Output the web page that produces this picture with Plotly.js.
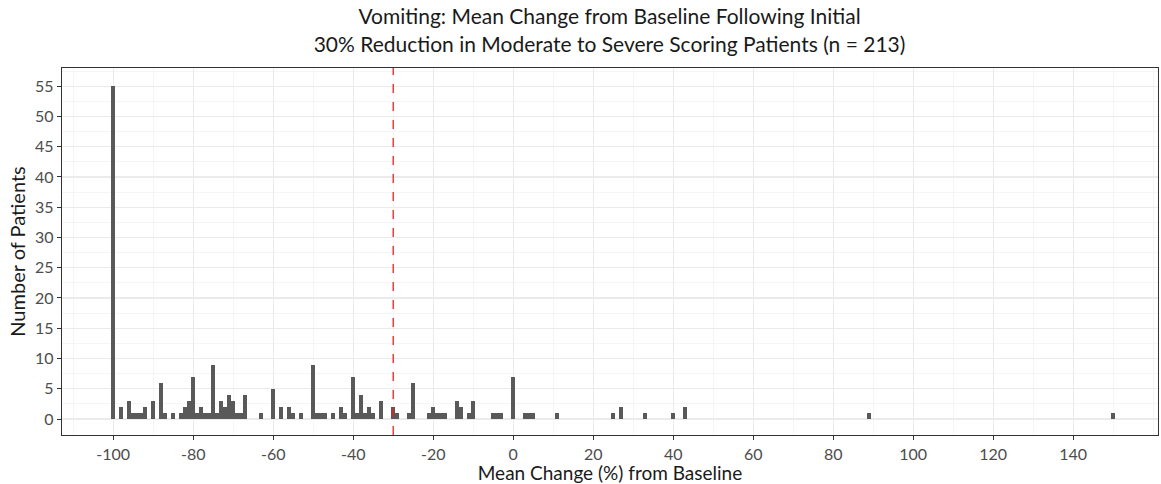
<!DOCTYPE html>
<html>
<head>
<meta charset="utf-8">
<script src="https://cdn.plot.ly/plotly-3.0.1.min.js"></script>
<style>html,body{margin:0;padding:0;background:#fff}</style>
</head>
<body>
<div id="chart" style="width:1161px;height:484px"></div>
<script>
const changeValues = [-100,-98,-96,-95,-94,-93,-92,-90,-88,-87,-85,-83,-82,-81,-80,-79,-78,-77,-76,-75,-74,-73,-72,-71,-70,-69,-68,-67,-63,-60,-58,-56,-55,-53,-50,-49,-48,-47,-45,-43,-42,-40,-39,-38,-37,-36,-35,-33,-30,-29,-26,-25,-21,-20,-19,-18,-17,-14,-13,-11,-10,-5,-4,-3,0,3,4,5,11,25,27,33,40,43,89,150];
const patientCounts = [55,2,3,1,1,1,2,3,6,1,1,1,2,3,7,1,2,1,1,9,1,3,2,4,3,1,1,4,1,5,2,2,1,1,9,1,1,1,1,2,1,7,1,4,1,2,1,3,2,1,1,6,1,2,1,1,1,3,2,1,3,1,1,1,7,1,1,1,1,1,2,1,1,2,1,1];
const xTickVals = [-100,-80,-60,-40,-20,0,20,40,60,80,100,120,140];
const yTickVals = [0,5,10,15,20,25,30,35,40,45,50,55];
const thresholdLine = -30;
const chartTitle = "Vomiting: Mean Change from Baseline Following Initial<br>30% Reduction in Moderate to Severe Scoring Patients (n = 213)";

const font = "Lato, 'Open Sans', sans-serif";
const trace = {
  type: "bar",
  x: changeValues,
  y: patientCounts,
  width: 1,
  marker: {color: "#595959", line: {width: 0}},
  hoverinfo: "x+y"
};
const layout = {
  width: 1161, height: 484,
  margin: {l: 62, r: 3, t: 68, b: 49},
  paper_bgcolor: "#fff", plot_bgcolor: "#fff",
  bargap: 0,
  showlegend: false,
  font: {family: font, color: "#4d4d4d"},
  title: {text: chartTitle, x: 0.525, xanchor: "center", yref: "container", y: 0.95, yanchor: "middle",
          font: {family: font, size: 21, color: "#1a1a1a"}},
  xaxis: {
    range: [-112.8, 161.2],
    tickvals: xTickVals, ticktext: xTickVals.map(String),
    ticks: "outside", ticklen: 4, tickcolor: "#333", tickwidth: 1,
    tickfont: {size: 16, color: "#4d4d4d"},
    showgrid: true, gridcolor: "#ebebeb", gridwidth: 1.2,
    minor: {dtick: 10, tick0: 0, showgrid: true, gridcolor: "#f3f3f3", gridwidth: 0.8, ticks: ""},
    zeroline: false,
    showline: true, linecolor: "#333", linewidth: 1.3, mirror: true,
    title: {text: "Mean Change (%) from Baseline", font: {size: 19, color: "#1a1a1a"}, standoff: 0}
  },
  yaxis: {
    range: [-2.64, 58.0],
    tickvals: yTickVals, ticktext: yTickVals.map(String),
    ticks: "outside", ticklen: 4, tickcolor: "#333", tickwidth: 1,
    tickfont: {size: 16, color: "#4d4d4d"},
    showgrid: true, gridcolor: "#ebebeb", gridwidth: 1.2,
    minor: {dtick: 2.5, tick0: 0, showgrid: true, gridcolor: "#f3f3f3", gridwidth: 0.8, ticks: ""},
    zeroline: false,
    showline: true, linecolor: "#333", linewidth: 1.3, mirror: true,
    title: {text: "Number of Patients", font: {size: 20, color: "#1a1a1a"}, standoff: 4}
  },
  shapes: [{
    type: "line", xref: "x", yref: "paper",
    x0: thresholdLine, x1: thresholdLine, y0: 0, y1: 1,
    line: {color: "#e8231f", width: 1.3, dash: "dash"}
  }]
};
Plotly.newPlot("chart", [trace], layout, {displayModeBar: false, staticPlot: true});
</script>
</body>
</html>
